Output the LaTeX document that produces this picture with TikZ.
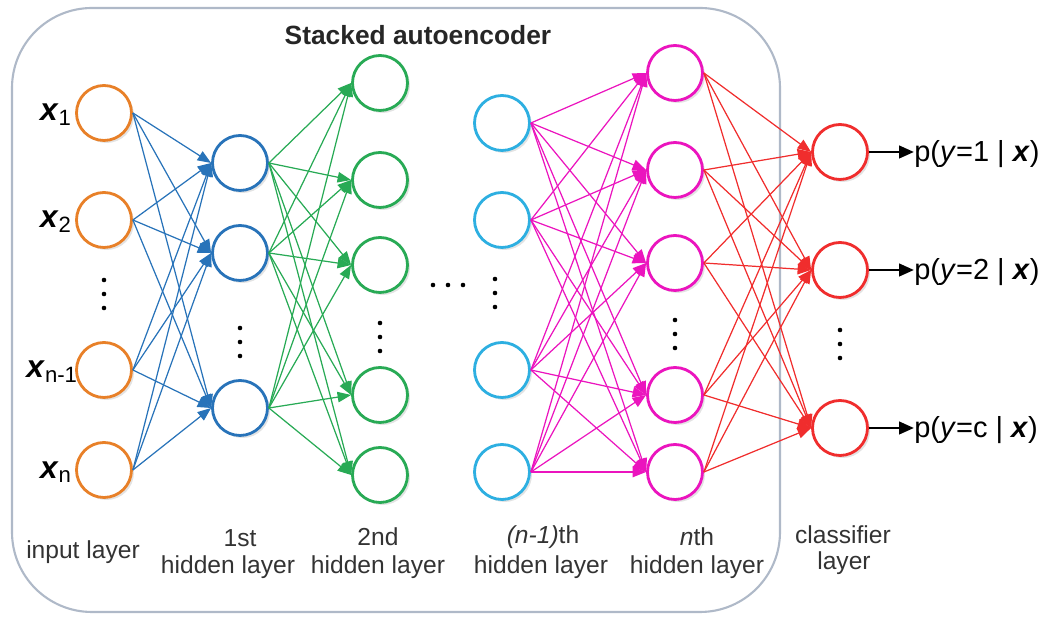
\documentclass[tikz,border=0pt]{standalone}
\usepackage{fontspec}
\setmainfont{Liberation Sans}
\usetikzlibrary{arrows.meta, shadows}
\usetikzlibrary{positioning}

\definecolor{inorange}{RGB}{232,128,40}
\definecolor{hblue}{RGB}{40,115,185}
\definecolor{hgreen}{RGB}{40,170,85}
\definecolor{hcyan}{RGB}{45,175,225}
\definecolor{hpink}{RGB}{235,20,190}
\definecolor{clsred}{RGB}{240,45,45}
\definecolor{framegray}{RGB}{175,185,200}

\tikzset{
  neuron/.style={draw=#1, circle, minimum size=1.1cm, inner sep=0pt, line width=1.6pt, fill=white,
    drop shadow={opacity=0.22, shadow xshift=0.05cm, shadow yshift=-0.05cm}},
  conn/.style={line width=0.7pt, -{Triangle[length=0.27cm, width=0.21cm]}},
  layertxt/.style={text=black!80, font=\fontsize{14}{17}\selectfont},
  xlab/.style={anchor=east, inner sep=1pt, font=\fontsize{18}{20}\selectfont},
  outlab/.style={anchor=west, inner sep=0pt, font=\fontsize{16.5}{19}\selectfont},
}

\begin{document}
\begin{tikzpicture}[x=0.02cm, y=-0.02cm]

\useasboundingbox (0,0) rectangle (1046,617);

\draw[framegray, line width=1.2pt, rounded corners=1.6cm] (12,8) rectangle (780,612);

\node[font=\fontsize{15}{18}\selectfont\bfseries, text=black!85] at (418, 35) (title) {Stacked autoencoder};

% input layer
\node[neuron=inorange] at (104, 113) (in1) {};
\node[neuron=inorange] at (104, 220) (in2) {};
\node[neuron=inorange] at (104, 370) (in3) {};
\node[neuron=inorange] at (104, 470) (in4) {};

\node[xlab] at (74, 115) (x1) {\textbf{\textit{x}}\textsubscript{1}};
\node[xlab] at (74, 222) (x2) {\textbf{\textit{x}}\textsubscript{2}};
\node[xlab] at (80, 372) (x3) {\textbf{\textit{x}}\textsubscript{n-1}};
\node[xlab] at (74, 472) (x4) {\textbf{\textit{x}}\textsubscript{n}};

% 1st hidden layer
\node[neuron=hblue] at (240, 163) (a1) {};
\node[neuron=hblue] at (240, 253) (a2) {};
\node[neuron=hblue] at (240, 408) (a3) {};

% 2nd hidden layer
\node[neuron=hgreen] at (380, 83) (b1) {};
\node[neuron=hgreen] at (380, 180) (b2) {};
\node[neuron=hgreen] at (380, 265) (b3) {};
\node[neuron=hgreen] at (380, 395) (b4) {};
\node[neuron=hgreen] at (380, 475) (b5) {};

% (n-1)th hidden layer
\node[neuron=hcyan] at (502, 123) (c1) {};
\node[neuron=hcyan] at (502, 220) (c2) {};
\node[neuron=hcyan] at (502, 370) (c3) {};
\node[neuron=hcyan] at (502, 472) (c4) {};

% nth hidden layer
\node[neuron=hpink] at (675, 73) (d1) {};
\node[neuron=hpink] at (675, 170) (d2) {};
\node[neuron=hpink] at (675, 263) (d3) {};
\node[neuron=hpink] at (675, 395) (d4) {};
\node[neuron=hpink] at (675, 472) (d5) {};

% classifier layer
\node[neuron=clsred] at (840, 152) (o1) {};
\node[neuron=clsred] at (840, 270) (o2) {};
\node[neuron=clsred] at (840, 428) (o3) {};

% full connections
\foreach \i in {1,...,4}
  \foreach \j in {1,...,3}
    \draw[conn, hblue] (in\i.east) -- (a\j.west);
\foreach \i in {1,...,3}
  \foreach \j in {1,...,5}
    \draw[conn, hgreen] (a\i.east) -- (b\j.west);
\foreach \i in {1,...,4}
  \foreach \j in {1,...,5}
    \draw[conn, hpink] (c\i.east) -- (d\j.west);
\foreach \i in {1,...,5}
  \foreach \j in {1,...,3}
    \draw[conn, clsred] (d\i.east) -- (o\j.west);

% dots
\foreach \x/\y in {104/294, 240/342, 380/337, 495/293, 675/334, 840/344}
  \foreach \k in {-1,0,1}
    \fill (\x, \y+\k*14) circle (1.3pt);
\foreach \x in {433, 448, 463}
  \fill (\x, 285) circle (1.3pt);

% outputs
\node[outlab] at (914, 154) (p1) {p(\textit{y}=1 | \textbf{\textit{x}})};
\node[outlab] at (914, 272) (p2) {p(\textit{y}=2 | \textbf{\textit{x}})};
\node[outlab] at (914, 430) (p3) {p(\textit{y}=c | \textbf{\textit{x}})};

\draw[line width=1.6pt, -{Triangle[length=0.3cm, width=0.25cm]}] (o1.east) -- (p1.west |- o1.east);
\draw[line width=1.6pt, -{Triangle[length=0.3cm, width=0.25cm]}] (o2.east) -- (p2.west |- o2.east);
\draw[line width=1.6pt, -{Triangle[length=0.3cm, width=0.25cm]}] (o3.east) -- (p3.west |- o3.east);

% layer names
\node[layertxt] at (83, 552) (l1) {input layer};
\node[layertxt] at (240, 538) (l2) {1st};
\node[layertxt] at (228, 567) (l3) {hidden layer};
\node[layertxt] at (378, 537) (l4) {2nd};
\node[layertxt] at (378, 567) (l5) {hidden layer};
\node[layertxt] at (543, 537) (l6) {\textit{(n-1)}th};
\node[layertxt] at (541, 567) (l7) {hidden layer};
\node[layertxt] at (697, 537) (l8) {\textit{n}th};
\node[layertxt] at (697, 567) (l9) {hidden layer};
\node[layertxt] at (843, 535) (l10) {classifier};
\node[layertxt] at (844, 563) (l11) {layer};

\end{tikzpicture}
\end{document}
